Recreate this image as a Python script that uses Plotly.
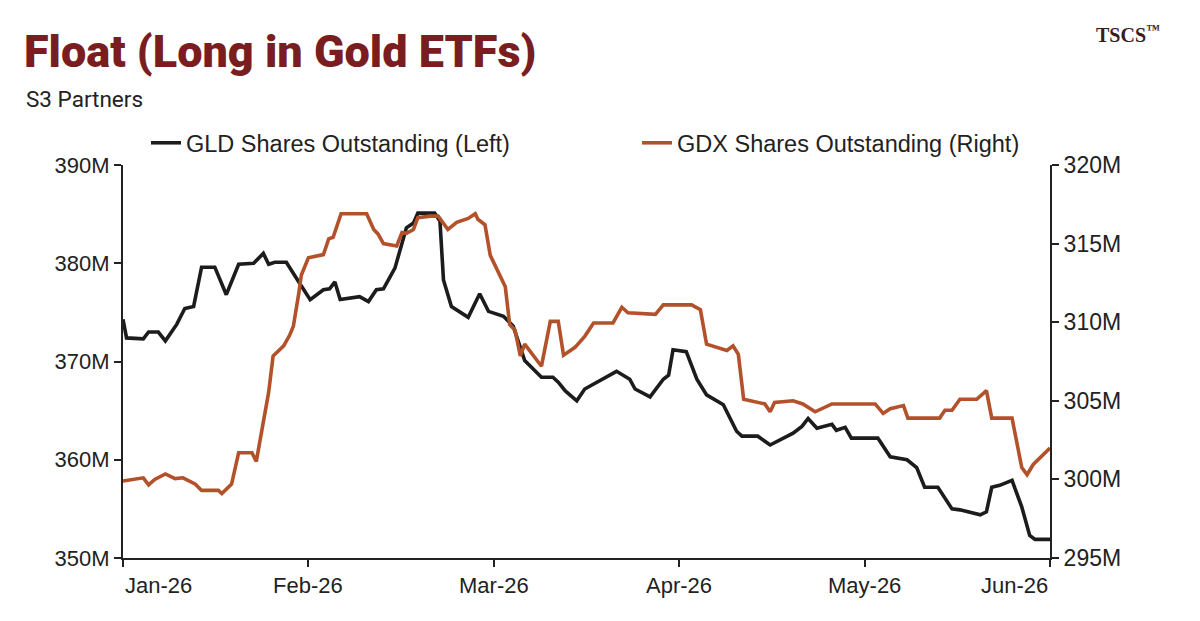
import plotly.graph_objects as go

# x = trading-day index from Jan-26 (21 trading days per month tick)
month_ticks = [0, 21, 42, 63, 84, 105]
month_labels = ["Jan-26", "Feb-26", "Mar-26", "Apr-26", "May-26", "Jun-26"]

gld_x = [0, 0.4, 2.3, 2.9, 4.0, 4.8, 6.1, 7.0, 8.0, 8.9, 10.4, 11.7, 13.1, 14.8, 15.9, 16.5,
         17.2, 18.5, 19.7, 21.2, 22.7, 23.4, 24.0, 24.6, 26.8, 27.8, 28.7, 29.5, 30.8, 31.4,
         32.1, 32.9, 33.4, 34.8, 35.3, 35.9, 36.3, 37.2, 39.1, 40.4, 41.4, 43.1, 44.2, 45.5,
         47.4, 48.7, 49.3, 50.1, 51.4, 52.3, 53.7, 55.9, 57.4, 58.0, 59.7, 61.2, 61.8, 62.3,
         63.8, 65.0, 66.1, 68.0, 69.5, 70.1, 71.9, 73.3, 75.9, 76.9, 77.6, 78.6, 80.3, 80.8,
         81.8, 82.5, 85.5, 86.9, 88.8, 89.9, 90.8, 92.3, 93.9, 94.8, 97.1, 97.8, 98.4, 99.3,
         100.7, 101.8, 102.7, 103.3, 105]
gld_m = [374.3, 372.4, 372.3, 373.0, 373.0, 372.1, 373.8, 375.4, 375.6, 379.6, 379.6, 376.8,
         379.9, 380.0, 381.0, 379.9, 380.1, 380.1, 378.4, 376.3, 377.3, 377.4, 378.1, 376.3,
         376.6, 376.1, 377.3, 377.4, 379.5, 381.5, 383.6, 384.1, 385.1, 385.1, 385.1, 384.3,
         378.3, 375.6, 374.5, 376.9, 375.1, 374.6, 373.6, 370.1, 368.4, 368.4, 367.9, 367.0,
         366.0, 367.2, 367.9, 369.0, 368.2, 367.2, 366.4, 368.2, 368.6, 371.2, 371.0, 368.2,
         366.6, 365.6, 362.9, 362.4, 362.4, 361.5, 362.7, 363.4, 364.2, 363.2, 363.6, 363.0,
         363.3, 362.2, 362.2, 360.3, 360.0, 359.2, 357.2, 357.2, 355.0, 354.9, 354.4, 354.7,
         357.2, 357.4, 357.9, 355.2, 352.3, 351.9, 351.9]

gdx_x = [0, 2.3, 2.9, 3.6, 4.8, 5.9, 6.8, 8.2, 8.9, 10.8, 11.2, 12.3, 13.1, 14.6, 15.1, 15.9,
         16.5, 17.0, 18.2, 18.9, 19.3, 19.9, 20.2, 21.0, 22.7, 23.3, 23.8, 24.7, 27.6, 28.4,
         28.9, 29.5, 31.0, 31.6, 32.1, 32.9, 33.4, 34.8, 35.7, 36.8, 37.8, 39.1, 39.9, 40.2,
         41.0, 41.6, 43.3, 43.8, 44.4, 45.0, 45.5, 47.4, 48.4, 49.3, 49.9, 51.2, 52.3, 53.3,
         55.5, 56.5, 57.2, 60.3, 61.2, 64.4, 65.4, 66.1, 68.4, 69.1, 69.7, 70.3, 72.7, 73.3,
         73.8, 75.9, 77.0, 78.4, 80.3, 85.2, 86.1, 86.9, 88.4, 88.9, 92.5, 93.1, 93.9, 94.8,
         96.7, 97.8, 98.4, 100.7, 101.8, 102.4, 103.1, 105]
gdx_m = [299.9, 300.1, 299.65, 300.0, 300.35, 300.05, 300.1, 299.7, 299.3, 299.3, 299.1,
         299.7, 301.7, 301.7, 301.15, 303.7, 305.55, 307.85, 308.5, 309.2, 309.75, 311.8,
         313.0, 314.1, 314.3, 315.3, 315.4, 316.9, 316.9, 315.9, 315.6, 315.0, 314.85, 315.7,
         315.65, 315.9, 316.65, 316.75, 316.75, 315.9, 316.35, 316.6, 316.9, 316.55, 316.2,
         314.25, 312.25, 309.85, 309.5, 307.85, 308.6, 307.2, 310.05, 310.05, 307.9, 308.4,
         309.1, 309.95, 309.95, 310.95, 310.6, 310.5, 311.1, 311.1, 310.8, 308.6, 308.2, 308.5,
         307.95, 305.1, 304.8, 304.3, 304.9, 305.0, 304.8, 304.3, 304.8, 304.8, 304.2, 304.5,
         304.7, 303.9, 303.9, 304.4, 304.4, 305.1, 305.1, 305.65, 303.9, 303.9, 300.75, 300.3,
         300.95, 302.0]

left_ticks = [350, 360, 370, 380, 390]
left_labels = ["350M", "360M", "370M", "380M", "390M"]
right_ticks = [295, 300, 305, 310, 315, 320]
right_labels = ["295M", "300M", "305M", "310M", "315M", "320M"]

GLD_COLOR = "#1c1c1c"
GDX_COLOR = "#b3522a"
SANS = "Liberation Sans, Arial, sans-serif"
AX_FONT = dict(family=SANS, size=22, color="#222222")
AX_FONT_R = dict(family=SANS, size=23, color="#222222")
LEG_FONT = dict(family=SANS, size=23.5, color="#222222")

fig = go.Figure()
fig.add_trace(go.Scatter(x=gld_x, y=gld_m, mode="lines", name="GLD Shares Outstanding (Left)",
                         line=dict(color=GLD_COLOR, width=3.6), yaxis="y", legend="legend"))
fig.add_trace(go.Scatter(x=gdx_x, y=gdx_m, mode="lines", name="GDX Shares Outstanding (Right)",
                         line=dict(color=GDX_COLOR, width=3.6), yaxis="y2", legend="legend2"))

axis_common = dict(showgrid=False, zeroline=False, showline=True, linecolor="#222222",
                   linewidth=2, ticks="outside", ticklen=7, tickwidth=2, tickcolor="#222222",
                   automargin=False)

legend_common = dict(orientation="h", xref="container", yref="container",
                     y=1 - 143 / 621, xanchor="left", yanchor="middle", font=LEG_FONT,
                     bgcolor="rgba(0,0,0,0)", borderwidth=0)

fig.update_layout(
    width=1200, height=621,
    margin=dict(l=123, r=150, t=160, b=63),
    paper_bgcolor="white", plot_bgcolor="rgba(0,0,0,0)",
    xaxis=dict(range=[0, 105], tickvals=month_ticks, ticktext=month_labels,
               showticklabels=False, tickfont=AX_FONT, **axis_common),
    yaxis=dict(range=[350, 390], tickvals=left_ticks, ticktext=left_labels,
               tickfont=AX_FONT, **axis_common),
    yaxis2=dict(range=[295, 320], tickvals=right_ticks, ticktext=right_labels, overlaying="y",
                side="right", tickfont=AX_FONT_R, **axis_common),
    legend=dict(x=146 / 1200, **legend_common),
    legend2=dict(x=637 / 1200, **legend_common),
    showlegend=True,
)

# month labels (first/last kept inside the plot edges, as in the source)
for i, (tv, tt) in enumerate(zip(month_ticks, month_labels)):
    anchor = "left" if i == 0 else ("right" if i == len(month_ticks) - 1 else "center")
    fig.add_annotation(text=tt, xref="x", yref="paper", x=tv, y=0, yshift=-13,
                       xanchor=anchor, yanchor="top", showarrow=False, font=AX_FONT)

def px_x(X):
    return (X - 123) / 927

def px_y(Y):
    return (558 - Y) / 398

fig.add_annotation(text="Float (Long in Gold ETFs)", xref="paper", yref="paper",
                   x=px_x(22), y=px_y(45), xanchor="left", yanchor="middle", showarrow=False,
                   font=dict(family="Roboto, sans-serif", size=45, color="#7a1d21", weight=900))
fig.add_annotation(text="S3 Partners", xref="paper", yref="paper",
                   x=px_x(24), y=px_y(93), xanchor="left", yanchor="middle", showarrow=False,
                   font=dict(family="Roboto, sans-serif", size=22.5, color="#222222"))
fig.add_annotation(text="TSCS<sup>™</sup>", xref="paper", yref="paper",
                   x=px_x(1094), y=px_y(27), xanchor="left", yanchor="middle", showarrow=False,
                   font=dict(family="Liberation Serif, serif", size=20, color="#3a1c1c",
                             weight="bold"))

fig.write_html("out.html")
